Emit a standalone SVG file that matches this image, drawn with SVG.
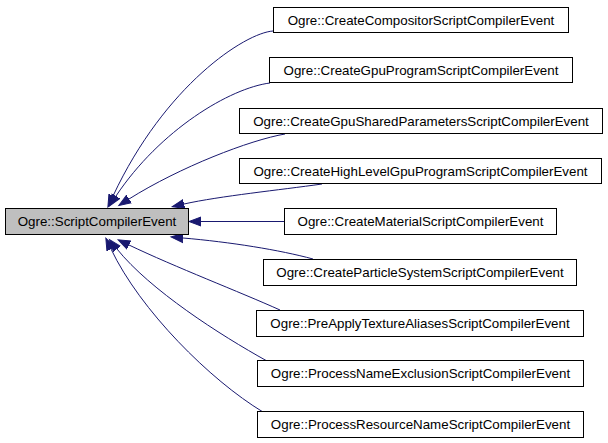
<svg xmlns="http://www.w3.org/2000/svg" width="608" height="443" viewBox="0 0 608 443">
<defs>
<style>
.node rect{fill:#ffffff;stroke:#000000;stroke-width:1}
#main rect{fill:#bfbfbf}
.node text{font-family:"Liberation Sans",Arial,Helvetica,sans-serif;font-size:13.33px;fill:#000000;text-anchor:middle}
.edge{fill:none;stroke:#191970;stroke-width:1;marker-end:url(#arr)}
</style>
<marker id="arr" markerUnits="userSpaceOnUse" markerWidth="14" markerHeight="12" refX="0" refY="0" viewBox="0 -6 14 12" orient="auto">
<path d="M0,-4.5 L12,0 L0,4.5 z" fill="#191970" stroke="#191970" stroke-width="1"/>
</marker>
</defs>
<rect width="608" height="443" fill="#ffffff"/>
<g id="connectors">
<path class="edge" d="M273,31 C245,33 165,85 113,196"/>
<path class="edge" d="M270,83 C230,88 160,130 116,196"/>
<path class="edge" d="M285,134 C250,140 180,167 129,199"/>
<path class="edge" d="M322,184 C280,190 220,196 184,204"/>
<path class="edge" d="M284,221.5 L201,221.5"/>
<path class="edge" d="M313,259 C280,250 230,242 183,238"/>
<path class="edge" d="M280,310 C240,292 175,267 129,245"/>
<path class="edge" d="M267,361 C220,335 150,290 117,249"/>
<path class="edge" d="M263,412 C210,380 140,310 111,249"/>
</g>
<g id="main" class="node"><rect x="5.5" y="208.5" width="183" height="26"/><text x="97" y="226">Ogre::ScriptCompilerEvent</text></g>
<g id="n1" class="node"><rect x="273.5" y="7.5" width="295" height="25"/><text x="421" y="24.5">Ogre::CreateCompositorScriptCompilerEvent</text></g>
<g id="n2" class="node"><rect x="269.5" y="57.5" width="303" height="25"/><text x="421" y="74.5">Ogre::CreateGpuProgramScriptCompilerEvent</text></g>
<g id="n3" class="node"><rect x="239.5" y="108.5" width="363" height="25"/><text x="421" y="125.5">Ogre::CreateGpuSharedParametersScriptCompilerEvent</text></g>
<g id="n4" class="node"><rect x="239.5" y="158.5" width="362" height="25"/><text x="420.5" y="175.5">Ogre::CreateHighLevelGpuProgramScriptCompilerEvent</text></g>
<g id="n5" class="node"><rect x="284.5" y="208.5" width="272" height="26"/><text x="420.5" y="226">Ogre::CreateMaterialScriptCompilerEvent</text></g>
<g id="n6" class="node"><rect x="263.5" y="259.5" width="313" height="26"/><text x="420" y="277">Ogre::CreateParticleSystemScriptCompilerEvent</text></g>
<g id="n7" class="node"><rect x="256.5" y="310.5" width="327" height="26"/><text x="420" y="328">Ogre::PreApplyTextureAliasesScriptCompilerEvent</text></g>
<g id="n8" class="node"><rect x="257.5" y="360.5" width="326" height="26"/><text x="420.5" y="378">Ogre::ProcessNameExclusionScriptCompilerEvent</text></g>
<g id="n9" class="node"><rect x="257.5" y="411.5" width="326" height="26"/><text x="420.5" y="429">Ogre::ProcessResourceNameScriptCompilerEvent</text></g>
</svg>
